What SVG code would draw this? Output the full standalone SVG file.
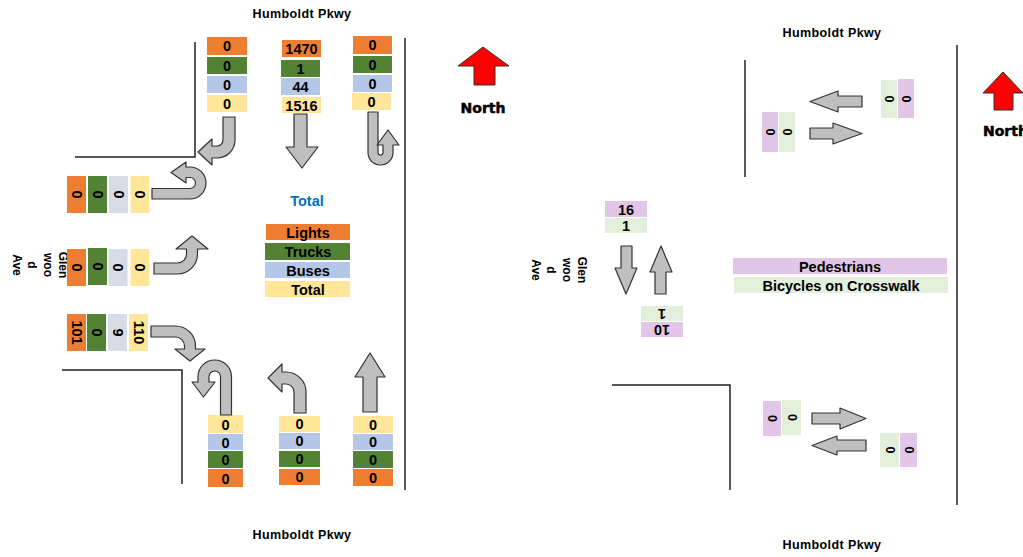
<svg xmlns="http://www.w3.org/2000/svg" width="1023" height="557" viewBox="0 0 1023 557">
<style>
text{font-family:"Liberation Sans",Arial,sans-serif;font-weight:bold;fill:#000}
.n{font-size:14.5px;text-anchor:middle}
.r{font-size:14.5px;text-anchor:middle;dominant-baseline:central}
.lg{font-size:14.5px;text-anchor:middle}
.st{font-size:12.5px;text-anchor:middle;letter-spacing:0.4px}
.gl{font-size:12px;text-anchor:middle}
.north{font-family:"DejaVu Sans",sans-serif;font-weight:900;font-size:14px;stroke:#000;stroke-width:0.5}
.o{fill:#ED7D31}.g{fill:#548235}.b{fill:#B4C7E7}.bl{fill:#D6DCE5}.y{fill:#FFE699}
.p{fill:#E2C6E8}.lgn{fill:#E2EFDA}
.ar{fill:#BFBFBF;stroke:#333;stroke-width:1.2;stroke-linejoin:round}
.rd{stroke:#222;stroke-width:1.5;fill:none}
.na{fill:#FF0000;stroke:#333;stroke-width:1}
</style>

<g id="roads">
<path class="rd" d="M195,42 V157 H75"/>
<path class="rd" d="M405,38 V490"/>
<path class="rd" d="M62,370 H182 V484"/>
<path class="rd" d="M745,60 V177"/>
<path class="rd" d="M612,385 H730 V490"/>
<path class="rd" d="M957,45 V505"/>
</g>

<g id="labels">
<text class="st" x="302" y="18">Humboldt Pkwy</text>
<text class="st" x="302" y="539">Humboldt Pkwy</text>
<text class="st" x="832" y="37">Humboldt Pkwy</text>
<text class="st" x="832" y="549">Humboldt Pkwy</text>
<g transform="translate(59,265) rotate(90)">
<text class="gl" x="0" y="0">Glen</text><text class="gl" x="0" y="15.5">woo</text><text class="gl" x="0" y="31">d</text><text class="gl" x="0" y="46.5">Ave</text>
</g>
<g transform="translate(578,270) rotate(90)">
<text class="gl" x="0" y="0">Glen</text><text class="gl" x="0" y="15.5">woo</text><text class="gl" x="0" y="31">d</text><text class="gl" x="0" y="46.5">Ave</text>
</g>
</g>

<g id="north-left">
<path class="na" d="M474,85 V66 H458 L483,47 L509,66 H495 V85 Z"/>
<text class="north" x="483" y="113" text-anchor="middle">North</text>
</g>
<g id="north-right">
<path class="na" d="M994,110 V93 H983 L1003,72 L1023,93 H1013 V110 Z"/>
<text class="north" x="983" y="136">North</text>
</g>

<g id="top-approach">
<rect class="o" x="207" y="37" width="40" height="18"/><text class="n" x="227" y="51">0</text>
<rect class="g" x="207" y="57" width="40" height="17"/><text class="n" x="227" y="70.5">0</text>
<rect class="b" x="207" y="76" width="40" height="17"/><text class="n" x="227" y="89.5">0</text>
<rect class="y" x="207" y="95" width="40" height="17"/><text class="n" x="227" y="108.5">0</text>

<rect class="o" x="282" y="40" width="39" height="17"/><text class="n" x="301.5" y="53.5">1470</text>
<rect class="g" x="281" y="60" width="39" height="17"/><text class="n" x="300.5" y="73.5">1</text>
<rect class="b" x="281" y="78" width="39" height="17"/><text class="n" x="300.5" y="91.5">44</text>
<rect class="y" x="282" y="97" width="39" height="16"/><text class="n" x="301.5" y="110.5">1516</text>

<rect class="o" x="353" y="36" width="39" height="18"/><text class="n" x="372.5" y="50">0</text>
<rect class="g" x="353" y="56" width="39" height="17"/><text class="n" x="372.5" y="69.5">0</text>
<rect class="b" x="353" y="75" width="39" height="17"/><text class="n" x="372.5" y="88.5">0</text>
<rect class="y" x="352" y="93" width="39" height="17"/><text class="n" x="371.5" y="106.5">0</text>
</g>

<g id="left-approach">
<rect class="o" x="67" y="176" width="19" height="37"/><text class="r" transform="rotate(90 76.5 194.5)" x="76.5" y="194.5">0</text>
<rect class="g" x="88" y="176" width="19" height="37"/><text class="r" transform="rotate(90 97.5 194.5)" x="97.5" y="194.5">0</text>
<rect class="bl" x="109" y="176" width="19" height="37"/><text class="r" transform="rotate(90 118.5 194.5)" x="118.5" y="194.5">0</text>
<rect class="y" x="130.5" y="176" width="19" height="37"/><text class="r" transform="rotate(90 140 194.5)" x="140" y="194.5">0</text>

<rect class="o" x="67" y="249" width="19" height="37"/><text class="r" transform="rotate(90 76.5 267.5)" x="76.5" y="267.5">0</text>
<rect class="g" x="88" y="248" width="19" height="37"/><text class="r" transform="rotate(90 97.5 266.5)" x="97.5" y="266.5">0</text>
<rect class="bl" x="108.5" y="249" width="19" height="37"/><text class="r" transform="rotate(90 118 267.5)" x="118" y="267.5">0</text>
<rect class="y" x="130.5" y="249" width="19" height="37"/><text class="r" transform="rotate(90 140 267.5)" x="140" y="267.5">0</text>

<rect class="o" x="67" y="314" width="19" height="37"/><text class="r" transform="rotate(90 76.5 332.5)" x="76.5" y="332.5">101</text>
<rect class="g" x="87" y="314" width="19" height="37"/><text class="r" transform="rotate(90 96.5 332.5)" x="96.5" y="332.5">0</text>
<rect class="bl" x="108" y="314" width="19" height="37"/><text class="r" transform="rotate(90 117.5 332.5)" x="117.5" y="332.5">9</text>
<rect class="y" x="129" y="314" width="19" height="37"/><text class="r" transform="rotate(90 138.5 332.5)" x="138.5" y="332.5">110</text>
</g>

<g id="bottom-approach">
<rect class="y" x="208" y="415" width="35" height="18"/><text class="n" x="225.5" y="429.5">0</text>
<rect class="b" x="208" y="434" width="35" height="16"/><text class="n" x="225.5" y="447.5">0</text>
<rect class="g" x="208" y="451" width="35" height="17"/><text class="n" x="225.5" y="464.5">0</text>
<rect class="o" x="208" y="469" width="35" height="18"/><text class="n" x="225.5" y="483.5">0</text>

<rect class="y" x="279" y="416" width="41" height="16"/><text class="n" x="299.5" y="429">0</text>
<rect class="b" x="279" y="433" width="41" height="16"/><text class="n" x="299.5" y="446">0</text>
<rect class="g" x="279" y="451" width="41" height="16"/><text class="n" x="299.5" y="464">0</text>
<rect class="o" x="279" y="469" width="41" height="16"/><text class="n" x="299.5" y="482">0</text>

<rect class="y" x="353" y="416" width="40" height="17"/><text class="n" x="373" y="429.5">0</text>
<rect class="b" x="353" y="434" width="40" height="16"/><text class="n" x="373" y="447">0</text>
<rect class="g" x="353" y="451" width="40" height="17"/><text class="n" x="373" y="464.5">0</text>
<rect class="o" x="353" y="469" width="40" height="17"/><text class="n" x="373" y="482.5">0</text>
</g>

<g id="legend-vehicles">
<text x="307" y="206" style="font-size:14.5px;text-anchor:middle;fill:#0070C0">Total</text>
<rect class="o" x="266" y="224" width="84" height="16"/><text class="lg" x="308" y="237.5">Lights</text>
<rect class="g" x="265" y="243" width="85" height="17"/><text class="lg" x="308" y="256.5">Trucks</text>
<rect class="b" x="265" y="262" width="85" height="16"/><text class="lg" x="308" y="275.5">Buses</text>
<rect class="y" x="265" y="281" width="85" height="16"/><text class="lg" x="308" y="294.5">Total</text>
</g>

<g id="ped-tr">
<rect class="lgn" x="881" y="80" width="16" height="38"/><text class="r" style="font-size:12.5px" transform="rotate(90 889 99)" x="889" y="99">0</text>
<rect class="p" x="898" y="79" width="16" height="39"/><text class="r" style="font-size:12.5px" transform="rotate(90 906 99)" x="906" y="99">0</text>
</g>
<g id="ped-tl">
<rect class="p" x="762" y="112" width="16" height="40"/><text class="r" style="font-size:12.5px" transform="rotate(90 770 132)" x="770" y="132">0</text>
<rect class="lgn" x="779" y="112" width="16" height="40"/><text class="r" style="font-size:12.5px" transform="rotate(90 787 132)" x="787" y="132">0</text>
</g>
<g id="ped-bl">
<rect class="p" x="763" y="401" width="18" height="35"/><text class="r" style="font-size:12.5px" transform="rotate(90 772 418.5)" x="772" y="418.5">0</text>
<rect class="lgn" x="782" y="400" width="19" height="35"/><text class="r" style="font-size:12.5px" transform="rotate(90 791.5 417.5)" x="791.5" y="417.5">0</text>
</g>
<g id="ped-br">
<rect class="lgn" x="880" y="433" width="19" height="34"/><text class="r" style="font-size:12.5px" transform="rotate(90 889.5 450)" x="889.5" y="450">0</text>
<rect class="p" x="900" y="433" width="17" height="34"/><text class="r" style="font-size:12.5px" transform="rotate(90 908.5 450)" x="908.5" y="450">0</text>
</g>
<g id="ped-center">
<rect class="p" x="605" y="201" width="42" height="16"/><text class="n" x="626" y="214.5">16</text>
<rect class="lgn" x="605" y="218" width="42" height="15"/><text class="n" x="626" y="230.5">1</text>
<rect class="lgn" x="641" y="306" width="42" height="15"/><text class="r" transform="rotate(180 662 313.5)" x="662" y="313.5">1</text>
<rect class="p" x="641" y="322" width="42" height="15"/><text class="r" transform="rotate(180 662 329.5)" x="662" y="329.5">10</text>
</g>

<g id="legend-ped">
<rect class="p" x="733" y="258" width="214" height="16"/><text class="lg" x="840" y="271.5">Pedestrians</text>
<rect class="lgn" x="734" y="277" width="214" height="16"/><text class="lg" x="841" y="290.5">Bicycles on Crosswalk</text>
</g>

<g id="connectors">
<path class="ar" d="M223,117 H235 V140 A18,18 0 0 1 217,158 H212 V165 L198,152 L212,139 V146 H217 A6,6 0 0 0 223,140 Z"/>
<path class="ar" d="M294,114 H307 V147 H318 L302,168 L286,147 H294 Z"/>
<path class="ar" d="M368,112 H378 V152.5 A2.5,2.5 0 0 0 383,152.5 V145 H377 L388,130 L399,145 H393 V152.5 A12.5,12.5 0 0 1 368,152.5 Z"/>
<path class="ar" d="M152,188.5 H190 A5.5,5.5 0 0 0 190,177.5 H186 V183 L171,172.5 L186,162 V167 H190 A16,16 0 0 1 190,199 H152 Z"/>
<path class="ar" d="M154,263 H177.5 A9,9 0 0 0 186.5,254 V249 H176 L192,236 L208,249 H197.5 V254 A20,20 0 0 1 177.5,274 H154 Z"/>
<path class="ar" d="M151,326 H175.5 A20,20 0 0 1 195.5,346 V349 H205 L190,361 L175,349 H184.5 V346 A9,9 0 0 0 175.5,337 H151 Z"/>
<path class="ar" d="M220.5,415 V376.75 A5.75,5.75 0 0 0 209,376.75 V382 H215 L203.5,397 L192,382 H198 V376.75 A16.75,16.75 0 0 1 231.5,376.75 V415 Z"/>
<path class="ar" d="M294,413 V392 A8,8 0 0 0 286,384 H282 V392 L268,378 L282,364 V372 H286 A20,20 0 0 1 306,392 V413 Z"/>
<path class="ar" d="M363,412 V377 H355 L370,353 L385,377 H377 V412 Z"/>
<path class="ar" d="M862,96 H838 V91 L810,101.5 L838,112 V107 H862 Z"/>
<path class="ar" d="M810,128 H833 V123 L862,133.5 L833,144 V139 H810 Z"/>
<path class="ar" d="M812,413 H840 V408 L866,418.5 L840,429 V424 H812 Z"/>
<path class="ar" d="M866,440 H837 V436 L812,445.5 L837,455 V451 H866 Z"/>
<path class="ar" d="M621,246 H632 V268 H637 L626,294 L615,268 H621 Z"/>
<path class="ar" d="M655,294 V272 H650 L661,246 L672,272 H666 V294 Z"/>
</g>
</svg>
